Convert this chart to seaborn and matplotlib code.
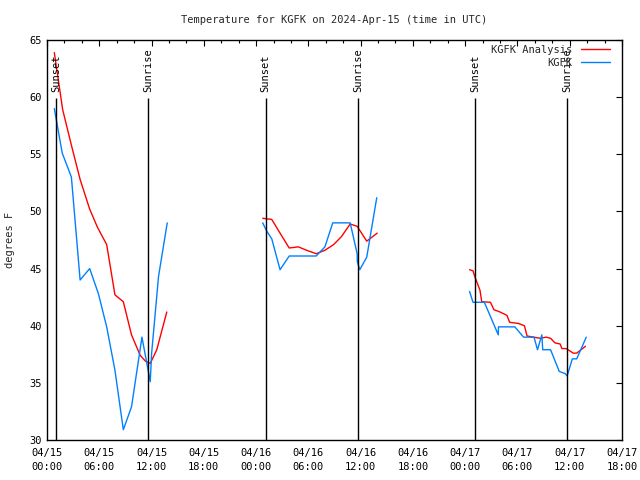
import pandas as pd
import seaborn as sns
import matplotlib.pyplot as plt
import matplotlib.dates as mdates

# Hours after 2024-04-15 00:00 UTC, temperatures in degrees F
# KGFK Analysis (red), three separate pieces
analysis_hours = [
    [0.84, 1.8, 2.8, 3.8, 4.9, 5.8, 6.85, 7.8, 8.76, 9.7, 10.7, 11.3, 11.85, 12.6, 13.75],
    [24.76, 25.8, 26.75, 27.8, 28.85, 29.8, 30.9, 31.9, 32.9, 33.8, 34.8, 35.6, 36.7, 37.9],
    [48.5, 48.9, 49.1, 49.7, 49.9, 50.9, 51.3, 52.0, 52.8, 53.1, 54.1, 54.8, 55.1, 56.6,
     57.3, 57.8, 58.3, 58.9, 59.1, 59.6, 60.4, 60.8, 61.8],
]
analysis_temps = [
    [63.9, 58.9, 55.8, 52.8, 50.2, 48.6, 47.1, 42.7, 42.1, 39.2, 37.4, 36.9, 36.7, 37.9, 41.2],
    [49.4, 49.3, 48.1, 46.8, 46.9, 46.6, 46.3, 46.6, 47.1, 47.8, 48.9, 48.7, 47.4, 48.1],
    [44.9, 44.8, 44.3, 43.1, 42.1, 42.05, 41.4, 41.2, 40.9, 40.3, 40.2, 40.0, 39.1, 38.9,
     39.0, 38.9, 38.5, 38.4, 38.0, 38.0, 37.6, 37.6, 38.2],
]

# KGFK observations (blue)
obs_hours = [
    [0.84, 1.75, 2.8, 3.8, 4.9, 5.9, 6.85, 7.8, 8.76, 9.7, 10.9, 11.85, 12.0, 12.8, 13.8],
    [24.76, 25.2, 25.8, 26.75, 27.8, 30.9, 31.9, 32.8, 34.8, 35.6, 35.62, 35.9, 36.7, 37.85],
    [48.5, 48.9, 50.2, 51.8, 51.82, 53.7, 54.7, 55.9, 56.3, 56.8, 56.9, 57.8, 58.8, 59.5,
     59.7, 60.3, 60.8, 61.9],
]
obs_temps = [
    [59.0, 55.1, 53.0, 44.0, 45.0, 42.8, 39.9, 36.1, 30.9, 32.9, 39.0, 35.1, 37.5, 44.3, 49.0],
    [49.0, 48.3, 47.6, 44.9, 46.1, 46.1, 46.9, 49.0, 49.0, 46.3, 45.6, 44.9, 46.0, 51.2],
    [43.0, 42.05, 42.05, 39.2, 39.9, 39.9, 39.0, 39.0, 37.9, 39.2, 37.9, 37.9, 36.0, 35.8,
     35.6, 37.1, 37.1, 39.0],
]

sunset_hours = [1.03, 25.1, 49.13]
sunrise_hours = [11.63, 35.67, 59.67]

start = pd.Timestamp("2024-04-15 00:00")
end = pd.Timestamp("2024-04-17 18:00")


def to_time(hours):
    return start + pd.to_timedelta(hours, unit="h")


def build_frame():
    rows = []
    for name, hours, temps in [("KGFK Analysis", analysis_hours, analysis_temps),
                               ("KGFK", obs_hours, obs_temps)]:
        for seg, (hh, tt) in enumerate(zip(hours, temps)):
            for h, t in zip(hh, tt):
                rows.append({"series": name, "seg": seg, "time": to_time(h), "temp": t})
    return pd.DataFrame(rows)


def main():
    sns.set_theme(style="white")
    plt.rcParams["font.family"] = ["DejaVu Sans Mono"]
    plt.rcParams["font.size"] = 7.5

    df = build_frame()

    fig = plt.figure(figsize=(6.4, 4.8), dpi=100)
    ax = fig.add_axes([47 / 640, 40 / 480, 575 / 640, 400 / 480])

    sns.lineplot(
        data=df, x="time", y="temp", hue="series", units="seg", estimator=None,
        palette={"KGFK Analysis": "#ff0000", "KGFK": "#0080ff"},
        linewidth=1.0, ax=ax, sort=False
    )

    # sunrise / sunset markers
    for label, hours in [("Sunset", sunset_hours), ("Sunrise", sunrise_hours)]:
        for h in hours:
            t = to_time(h)
            ax.vlines(t, 30, 59.9, color="black", linewidth=1.0)
            ax.text(t, 60.45, label, rotation=90, ha="center", va="bottom",
                    fontsize=7.5, color="black")

    ax.set_xlim(start, end)
    ax.set_ylim(30, 65)
    ax.set_yticks(range(30, 66, 5))
    ax.xaxis.set_major_locator(mdates.HourLocator(byhour=[0, 6, 12, 18]))
    ax.xaxis.set_minor_locator(mdates.HourLocator(byhour=range(0, 24, 2)))
    ax.xaxis.set_major_formatter(mdates.DateFormatter("%m/%d\n%H:%M"))
    ax.set_xlabel("")
    ax.set_ylabel("")

    ax.tick_params(which="both", direction="in", top=True, right=True,
                   colors="black", labelsize=7.5)
    ax.tick_params(which="major", length=4.5, width=0.8, pad=4)
    ax.tick_params(axis="x", which="major", pad=6)
    ax.tick_params(which="minor", length=2.5, width=0.8)
    for sp in ax.spines.values():
        sp.set_color("black")
        sp.set_linewidth(1.0)
    for lab in ax.get_xticklabels():
        lab.set_linespacing(1.4)

    handles, labels = ax.get_legend_handles_labels()
    ax.legend(handles, labels, loc="upper right", bbox_to_anchor=(0.979, 0.988),
              frameon=False, markerfirst=False, handlelength=2.8, borderpad=0,
              borderaxespad=0, labelspacing=0.28, handletextpad=0.8, fontsize=7.5)

    fig.text(334.5 / 640, 1 - 20 / 480, "Temperature for KGFK on 2024-Apr-15 (time in UTC)",
             ha="center", va="center", fontsize=7.5)
    fig.text(10 / 640, 0.5, "degrees F", rotation=90, ha="center", va="center", fontsize=7.5)

    fig.savefig("out.png", dpi=100, facecolor="white")


if __name__ == "__main__":
    main()
